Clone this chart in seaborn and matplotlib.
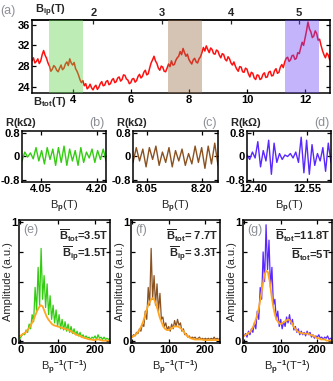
import numpy as np
import pandas as pd
import matplotlib
matplotlib.use("Agg")
import matplotlib.pyplot as plt
import seaborn as sns

# ---- (a) R vs B_tot, sampled every 0.05 T from 2.6 T to 12.9 T ----
b_tot_range = (2.6, 12.9)
r_total = [29.0, 29.6, 28.6, 28.9, 29.4, 28.5, 29.0, 30.2, 31.0, 30.1,
           29.5, 28.6, 28.0, 27.0, 27.4, 28.1, 27.8, 27.2, 26.9, 27.6,
           28.2, 27.3, 27.6, 28.4, 28.8, 28.1, 29.4, 28.6, 28.2, 28.7,
           27.5, 27.0, 26.3, 25.4, 24.8, 25.2, 24.2, 24.6, 23.6, 23.9,
           24.5, 23.8, 23.4, 24.0, 24.3, 23.5, 23.9, 24.6, 25.0, 24.2,
           24.3, 25.0, 25.2, 24.4, 24.6, 25.3, 25.6, 24.8, 25.0, 25.7,
           25.9, 25.1, 25.4, 26.3, 26.2, 25.5, 25.3, 24.6, 24.8, 25.5,
           25.6, 24.9, 25.2, 26.0, 26.4, 25.7, 26.0, 26.8, 27.2, 26.3,
           26.5, 27.6, 28.6, 29.2, 29.9, 29.0, 28.5, 27.6, 27.2, 28.0,
           27.8, 27.0, 26.9, 27.6, 28.4, 27.9, 29.0, 28.2, 28.3, 29.1,
           29.6, 29.9, 30.8, 30.2, 31.4, 30.6, 29.9, 30.3, 29.3, 28.8,
           28.4, 29.2, 29.5, 28.8, 28.6, 29.4, 29.8, 30.6, 31.6, 30.9,
           31.9, 31.2, 30.6, 31.5, 31.2, 30.4, 30.3, 31.1, 30.9, 30.1,
           29.6, 30.4, 30.2, 29.3, 29.0, 29.8, 29.4, 28.6, 28.2, 28.8,
           28.0, 27.4, 27.0, 27.9, 27.8, 26.9, 26.8, 27.6, 27.4, 26.5,
           25.9, 26.8, 26.6, 25.7, 25.4, 26.3, 26.2, 25.4, 25.6, 26.4,
           26.7, 25.8, 25.9, 26.8, 27.0, 26.1, 26.2, 27.1, 27.5, 26.6,
           26.8, 27.8, 28.3, 27.7, 28.8, 29.5, 29.7, 28.9, 29.2, 30.0,
           30.1, 29.3, 29.5, 30.6, 30.4, 31.5, 32.6, 32.0, 33.4, 34.8,
           36.5, 35.2, 34.6, 33.5, 33.8, 34.8, 34.3, 33.0, 33.2, 32.0,
           31.0, 30.2, 29.6, 30.5, 30.1, 29.2, 29.4]
shade_ranges = [(3.17, 4.34), (7.28, 8.45), (11.31, 12.48)]
b_ip_ticks = [2, 3, 4, 5]
ip_ratio = 0.424

# ---- (b)-(d) oscillating part of R (kOhm) ----
osc_ranges = [(4.0, 4.225), (8.012, 8.244), (12.383, 12.617)]
osc_b = [-0.15, 0.15, -0.02, 0.12, -0.08, 0.30, -0.15, 0.20, -0.25, 0.30,
         -0.10, 0.25, -0.30, 0.30, -0.20, 0.35, -0.30, 0.25, -0.15, 0.20,
         -0.30, 0.30, -0.20, 0.15, -0.05, 0.25, -0.20, 0.20, -0.10, 0.25,
         -0.15]
osc_c = [-0.20, 0.30, -0.15, 0.25, -0.35, 0.30, -0.10, 0.35, -0.30, 0.15,
         -0.20, 0.30, -0.35, 0.20, -0.15, 0.25, -0.30, 0.10, -0.25, 0.35,
         -0.20, 0.30, -0.40, 0.35, -0.25, 0.45, -0.30]
osc_d = [0.05, -0.10, 0.15, -0.05, 0.50, -0.35, 0.20, -0.15, 0.55, -0.60,
         0.45, -0.20, 0.10, -0.10, 0.05, 0.00, 0.10, -0.05, 0.15, -0.20,
         0.65, -0.55, 0.55, -0.60, 0.40, -0.30, 0.10, -0.15, 0.30, -0.50,
         0.45, -0.20]
osc_xticks = [(4.05, 4.20), (8.05, 8.20), (12.40, 12.55)]
osc_xticklabels = [("4.05", "4.20"), ("8.05", "8.20"), ("12.40", "12.55")]

# ---- (e)-(g) FFT amplitude, raw every 4 T^-1 and smoothed every 5 T^-1 ----
fft_e = [0.02, 0.04, 0.06, 0.05, 0.09, 0.07, 0.14, 0.10, 0.22, 0.16,
         0.45, 0.25, 0.62, 0.30, 0.78, 0.35, 0.55, 0.28, 0.48, 0.22,
         0.38, 0.18, 0.30, 0.15, 0.26, 0.12, 0.22, 0.10, 0.18, 0.09,
         0.16, 0.08, 0.14, 0.07, 0.12, 0.06, 0.10, 0.05, 0.08, 0.04,
         0.07, 0.03, 0.05, 0.02, 0.04, 0.02, 0.03, 0.01, 0.03, 0.02,
         0.04, 0.01, 0.05, 0.02, 0.03, 0.01, 0.03, 0.01, 0.02, 0.01,
         0.02]
fft_f = [0.03, 0.05, 0.04, 0.07, 0.06, 0.10, 0.08, 0.14, 0.12, 0.25,
         0.18, 0.45, 0.30, 0.78, 0.35, 0.55, 0.30, 0.48, 0.25, 0.40,
         0.18, 0.20, 0.12, 0.15, 0.09, 0.12, 0.08, 0.14, 0.10, 0.17,
         0.12, 0.18, 0.13, 0.15, 0.08, 0.10, 0.05, 0.06, 0.03, 0.04,
         0.02, 0.03, 0.02, 0.03, 0.01, 0.02, 0.03, 0.01, 0.02, 0.01,
         0.02, 0.01, 0.02, 0.01, 0.02, 0.01, 0.03, 0.01, 0.02, 0.01,
         0.02]
fft_g = [0.04, 0.06, 0.03, 0.08, 0.05, 0.10, 0.07, 0.15, 0.10, 0.25,
         0.18, 0.45, 0.35, 0.75, 0.50, 0.98, 0.60, 0.85, 0.45, 0.62,
         0.30, 0.35, 0.18, 0.25, 0.12, 0.18, 0.10, 0.16, 0.12, 0.20,
         0.15, 0.22, 0.14, 0.18, 0.09, 0.12, 0.07, 0.10, 0.05, 0.08,
         0.05, 0.07, 0.04, 0.08, 0.05, 0.07, 0.03, 0.05, 0.02, 0.04,
         0.03, 0.05, 0.02, 0.03, 0.01, 0.03, 0.02, 0.04, 0.01, 0.02,
         0.01]
smooth_e = [0.04, 0.05, 0.06, 0.07, 0.09, 0.11, 0.14, 0.17, 0.21, 0.25,
            0.28, 0.30, 0.29, 0.25, 0.21, 0.18, 0.16, 0.14, 0.13, 0.125,
            0.12, 0.115, 0.11, 0.105, 0.10, 0.095, 0.09, 0.08, 0.07, 0.06,
            0.05, 0.045, 0.04, 0.03, 0.025, 0.02, 0.015, 0.01, 0.01, 0.005,
            0.005, 0.01, 0.01, 0.005, 0.0, 0.0, 0.0, 0.0, 0.0]
smooth_f = [0.03, 0.04, 0.05, 0.07, 0.09, 0.12, 0.16, 0.21, 0.26, 0.31,
            0.34, 0.36, 0.35, 0.31, 0.26, 0.20, 0.16, 0.12, 0.10, 0.09,
            0.09, 0.10, 0.11, 0.12, 0.12, 0.12, 0.11, 0.10, 0.08, 0.06,
            0.04, 0.03, 0.02, 0.015, 0.01, 0.01, 0.01, 0.01, 0.01, 0.005,
            0.005, 0.005, 0.005, 0.005, 0.005, 0.005, 0.005, 0.005, 0.005]
smooth_g = [0.04, 0.05, 0.06, 0.07, 0.09, 0.12, 0.16, 0.21, 0.27, 0.36,
            0.45, 0.55, 0.59, 0.58, 0.50, 0.38, 0.28, 0.21, 0.17, 0.15,
            0.14, 0.15, 0.16, 0.17, 0.18, 0.17, 0.15, 0.12, 0.10, 0.08,
            0.07, 0.065, 0.06, 0.06, 0.06, 0.06, 0.05, 0.045, 0.04, 0.03,
            0.02, 0.02, 0.01, 0.01, 0.01, 0.0, 0.0, 0.0, 0.0]
fft_range = (0, 240)
fft_notes = [("3.5T", "1.5T", "ip"), (" 7.7T", " 3.3T", "ip"), ("11.8T", "5T", "tot")]

panel_colors = ["#33cc11", "#8a5220", "#5a28ff"]
shade_colors = ["#5ad446", "#986941", "#6944f5"]
orange = "#ffa520"
label_gray = "#8c9096"

sns.set_style("ticks", {"xtick.direction": "in", "ytick.direction": "in"})
plt.rcParams["font.family"] = ["Liberation Sans", "DejaVu Sans"]
plt.rcParams["font.weight"] = "bold"
plt.rcParams["mathtext.fontset"] = "custom"
plt.rcParams["mathtext.rm"] = "Liberation Sans:bold"
plt.rcParams["mathtext.it"] = "Liberation Sans:bold"
plt.rcParams["mathtext.bf"] = "Liberation Sans:bold"
plt.rcParams["font.size"] = 8
plt.rcParams["axes.linewidth"] = 1.1

fig = plt.figure(figsize=(3.33, 3.81), dpi=100)

def style_axes(ax):
    ax.tick_params(direction="in", top=True, right=True, length=3, width=0.9,
                   labelsize=8, pad=1.5, colors="black")
    for s in ax.spines.values():
        s.set_color("black")
        s.set_linewidth(1.1)

# ---- panel (a) ----
ax_a = fig.add_axes([0.0961, 0.7559, 0.895, 0.1916])
b_tot = np.linspace(b_tot_range[0], b_tot_range[1], len(r_total))
sns.lineplot(x=b_tot, y=r_total, ax=ax_a, color="#ff1010", lw=1.1,
             estimator=None, sort=False)
for (lo, hi), c in zip(shade_ranges, shade_colors):
    ax_a.axvspan(lo, hi, color=c, alpha=0.4, lw=0, zorder=3)
ax_a.set_xlim(2.6, 12.86)
ax_a.set_ylim(22.8, 36.9)
ax_a.set_xticks([4, 6, 8, 10, 12])
ax_a.set_yticks([24, 28, 32, 36])
style_axes(ax_a)
ax_a.tick_params(top=False)
sec = ax_a.secondary_xaxis("top", functions=(lambda b: b * ip_ratio, lambda b: b / ip_ratio))
sec.set_xticks(b_ip_ticks)
sec.tick_params(direction="in", length=3, width=0.9, labelsize=8, pad=1.5)
fig.text(0.0, 0.972, "(a)", color=label_gray, fontsize=9, va="center", fontweight="normal")
fig.text(0.105, 0.972, r"B$_{ip}$(T)", fontsize=8, va="center")
fig.text(0.1, 0.733, r"B$_{tot}$(T)", fontsize=8, va="center")

# ---- panels (b)-(d) ----
osc_lefts = [0.0661, 0.3994, 0.7417]
osc_widths = [0.2523, 0.2553, 0.2523]
for i, (vals, name) in enumerate(zip([osc_b, osc_c, osc_d], ["(b)", "(c)", "(d)"])):
    ax = fig.add_axes([osc_lefts[i], 0.5223, osc_widths[i], 0.1339])
    lo, hi = osc_ranges[i]
    xs = np.linspace(lo, hi, len(vals))
    sns.lineplot(x=xs, y=vals, ax=ax, color=panel_colors[i], lw=1.0,
                 estimator=None, sort=False)
    ax.set_xlim(lo, hi)
    ax.set_ylim(-0.86, 0.86)
    ax.set_yticks([-0.8, 0, 0.8])
    ax.set_yticklabels(["-0.8", "0", "0.8"])
    ax.set_xticks(osc_xticks[i])
    ax.set_xticklabels(osc_xticklabels[i])
    style_axes(ax)
    ax.set_xlabel(r"B$_p$(T)", fontsize=8)
    ax.xaxis.set_label_coords(0.5, -0.33)
    ax.text(-0.2, 1.16, r"R(k$\Omega$)", transform=ax.transAxes, fontsize=8,
            ha="left", va="center")
    ax.text(0.98, 1.16, name, transform=ax.transAxes, fontsize=9,
            color=label_gray, ha="right", va="center", fontweight="normal")

# ---- panels (e)-(g) ----
fft_lefts = [0.0571, 0.3934, 0.7297]
fft_widths = [0.2733, 0.2673, 0.2673]
for i, (raw, smooth, name) in enumerate(zip([fft_e, fft_f, fft_g],
                                            [smooth_e, smooth_f, smooth_g],
                                            ["(e)", "(f)", "(g)"])):
    ax = fig.add_axes([fft_lefts[i], 0.0997, fft_widths[i], 0.3228])
    xr = np.linspace(fft_range[0], fft_range[1], len(raw))
    xs = np.linspace(fft_range[0], fft_range[1], len(smooth))
    sns.lineplot(x=xr, y=raw, ax=ax, color=panel_colors[i], lw=0.9,
                 estimator=None, sort=False)
    sns.lineplot(x=xs, y=smooth, ax=ax, color=orange, lw=1.3,
                 estimator=None, sort=False)
    ax.set_xlim(-3, 240)
    ax.set_ylim(-0.02, 1.02)
    ax.set_xticks([0, 100, 200])
    ax.set_yticks([0, 0.25, 0.5, 0.75, 1])
    ax.set_yticklabels(["0", "", "", "", "1"])
    style_axes(ax)
    ax.set_xlabel(r"B$_p$$^{-1}$(T$^{-1}$)", fontsize=8)
    ax.xaxis.set_label_coords(0.5, -0.13)
    ax.set_ylabel("Amplitude (a.u.)", fontsize=8)
    ax.yaxis.set_label_coords(-0.07, 0.5)
    ax.text(0.05, 0.92, name, transform=ax.transAxes, fontsize=9,
            color=label_gray, ha="left", va="center", fontweight="normal")
    tot, ip, sub = fft_notes[i]
    ax.text(0.98, 0.87, r"$\overline{\rm B}_{\rm tot}$=" + tot, transform=ax.transAxes,
            fontsize=8, ha="right", va="center")
    ax.text(0.98, 0.72, r"$\overline{\rm B}_{\rm " + sub + "}$=" + ip, transform=ax.transAxes,
            fontsize=8, ha="right", va="center")

fig.savefig("out.png", dpi=100)
